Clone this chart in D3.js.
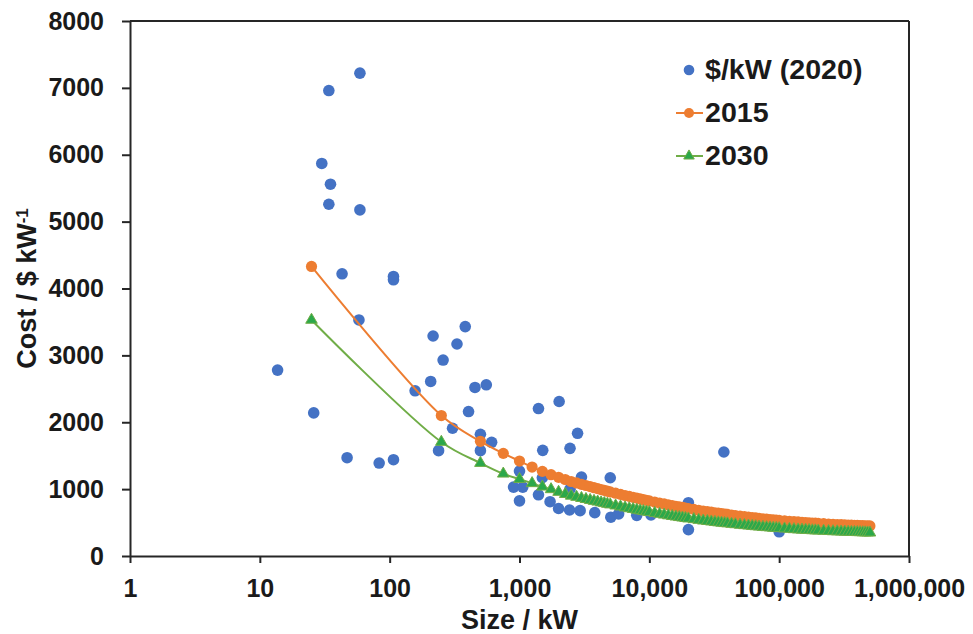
<!DOCTYPE html>
<html>
<head>
<meta charset="utf-8">
<script src="https://cdn.jsdelivr.net/npm/d3@7"></script>
<style>
  html, body { margin: 0; padding: 0; background: #fff; }
  svg text { font-family: "Liberation Sans", Arial, Helvetica, sans-serif; font-weight: bold; fill: #1a1a1a; }
</style>
</head>
<body>
<svg id="chart" width="973" height="634"></svg>
<script>
// ---------- data ----------
const blueSize = [13.7, 26, 47, 30, 34, 35, 34, 43, 59, 59, 58, 83, 107, 107, 107, 157, 207, 216, 238, 258, 305, 330, 382, 405, 454, 500, 500, 555, 610, 900, 1000, 1000, 1060, 1400, 1400, 1510, 1500, 1720, 2000, 2020, 2430, 2450, 2450, 2800, 2930, 3000, 3800, 5000, 5050, 5800, 8000, 10300, 20000, 20000, 37500, 100000];
const blueCost = [2780, 2140, 1470, 5870, 6960, 5560, 5260, 4220, 7220, 5175, 3530, 1390, 4180, 4130, 1440, 2470, 2610, 3290, 1575, 2930, 1910, 3170, 3430, 2160, 2520, 1820, 1575, 2560, 1700, 1030, 1270, 825, 1030, 2205, 915, 1580, 1170, 812, 710, 2310, 688, 1610, 1000, 1835, 678, 1180, 648, 1170, 580, 630, 608, 613, 797, 395, 1555, 362];

const curveSize = [25, 250, 500, 750,
  1000, 1250, 1500, 1750, 2000, 2250, 2500, 2750, 3000, 3250, 3500, 3750, 4000, 4250, 4500, 4750,
  5000, 5500, 6000, 6500, 7000, 7500, 8000, 8500, 9000, 9500,
  10000, 11000, 12000, 13000, 14000, 15000, 16000, 17000, 18000, 19000, 20000,
  22000, 24000, 26000, 28000, 30000, 32000, 34000, 36000, 38000, 40000,
  43000, 46000, 50000, 54000, 58000, 62000, 66000, 70000, 75000, 80000, 85000, 90000, 95000,
  100000, 110000, 120000, 130000, 140000, 150000, 160000, 170000, 180000, 190000, 200000,
  220000, 240000, 260000, 280000, 300000, 320000, 340000, 360000, 380000, 400000, 420000, 440000, 460000, 480000, 500000];
const cost2015 = [4330, 2100, 1715, 1535,
  1420, 1330, 1266, 1216, 1177, 1144, 1114, 1092, 1072, 1054, 1037, 1021, 1007, 994, 981, 969,
  958, 939, 921, 905, 891, 877, 865, 853, 842, 832,
  823, 807, 791, 778, 765, 754, 744, 734, 726, 717, 710,
  697, 684, 673, 664, 655, 647, 640, 633, 626, 621,
  613, 605, 596, 589, 581, 575, 569, 563, 557, 551, 546, 541, 537,
  533, 526, 520, 514, 509, 505, 500, 497, 493, 491, 488,
  483, 478, 474, 471, 468, 466, 463, 461, 459, 457, 455, 453, 452, 451, 449];
const cost2030 = [3530, 1705, 1390, 1230,
  1150, 1087, 1036, 997, 957, 925, 900, 882, 865, 850, 836, 822, 811, 799, 789, 778,
  769, 753, 738, 724, 712, 701, 690, 680, 671, 662,
  655, 642, 628, 617, 606, 596, 588, 580, 573, 566, 559,
  549, 538, 528, 521, 514, 507, 501, 496, 490, 486,
  479, 473, 465, 459, 453, 448, 443, 438, 433, 429, 425, 420, 417,
  414, 409, 404, 399, 395, 392, 389, 386, 383, 381, 379,
  375, 371, 368, 366, 364, 362, 360, 358, 357, 355, 354, 352, 351, 350, 349];

const xTickValues = [1, 10, 100, 1000, 10000, 100000, 1000000];
const yTickValues = [0, 1000, 2000, 3000, 4000, 5000, 6000, 7000, 8000];
const seriesNames = ["$/kW (2020)", "2015", "2030"];

// ---------- layout ----------
const colors = { blue: "#4472C4", orange: "#ED7D31", greenFill: "#2BA84A", greenLine: "#70AD47" };
const margin = { left: 130, right: 64, top: 21, bottom: 78 };
const W = 973, H = 634;
const svg = d3.select("#chart");

const x = d3.scaleLog().domain([1, 1000000]).range([margin.left, W - margin.right]);
const y = d3.scaleLinear().domain([0, 8000]).range([H - margin.bottom, margin.top]);
const axisColor = "#262626";

// plot frame (top and right)
svg.append("line").attr("x1", x(1)).attr("x2", x(1e6)).attr("y1", y(8000)).attr("y2", y(8000))
  .attr("stroke", axisColor).attr("stroke-width", 2);
svg.append("line").attr("x1", x(1e6)).attr("x2", x(1e6)).attr("y1", y(8000)).attr("y2", y(0))
  .attr("stroke", axisColor).attr("stroke-width", 2);

// axes
const xAxis = d3.axisBottom(x).tickValues(xTickValues).tickFormat(d3.format(",")).tickSize(7).tickPadding(16).tickSizeOuter(0);
const yAxis = d3.axisLeft(y).tickValues(yTickValues).tickFormat(d => d).tickSize(8).tickPadding(18).tickSizeOuter(0);

const gx = svg.append("g").attr("transform", `translate(0,${y(0)})`).call(xAxis);
const gy = svg.append("g").attr("transform", `translate(${x(1)},0)`).call(yAxis);
[gx, gy].forEach(g => {
  g.select(".domain").attr("stroke", axisColor).attr("stroke-width", 2);
  g.selectAll(".tick line").attr("stroke", axisColor).attr("stroke-width", 2);
  g.selectAll(".tick text").attr("fill", "#1a1a1a").style("font-size", "25px")
    .style("font-family", '"Liberation Sans", Arial, sans-serif').style("font-weight", "bold");
});

// axis titles
svg.append("text").attr("x", (x(1) + x(1e6)) / 2).attr("y", 629).attr("text-anchor", "middle")
  .style("font-size", "27px").text("Size / kW");
const yt = svg.append("text").attr("transform", `translate(36,${(y(0) + y(8000)) / 2}) rotate(-90)`)
  .attr("text-anchor", "middle").style("font-size", "27px");
yt.append("tspan").text("Cost / $ kW");
yt.append("tspan").attr("dy", "-0.45em").style("font-size", "17px").text("-1");

// ---------- marks ----------
const plot = svg.append("g");
const blueData = blueSize.map((s, i) => ({ s, c: blueCost[i] }));
plot.selectAll("circle.blue").data(blueData).enter().append("circle")
  .attr("class", "blue").attr("cx", d => x(d.s)).attr("cy", d => y(d.c)).attr("r", 5.8)
  .attr("fill", colors.blue);

const d2015 = curveSize.map((s, i) => ({ s, c: cost2015[i] }));
const d2030 = curveSize.map((s, i) => ({ s, c: cost2030[i] }));
const line = d3.line().x(d => x(d.s)).y(d => y(d.c)).curve(d3.curveCatmullRom.alpha(0.5));

plot.append("path").datum(d2015).attr("d", line).attr("fill", "none").attr("stroke", colors.orange).attr("stroke-width", 2);
plot.selectAll("circle.o").data(d2015).enter().append("circle")
  .attr("class", "o").attr("cx", d => x(d.s)).attr("cy", d => y(d.c)).attr("r", 5.6)
  .attr("fill", colors.orange);

plot.append("path").datum(d2030).attr("d", line).attr("fill", "none").attr("stroke", colors.greenLine).attr("stroke-width", 2);
const tri = d3.symbol().type(d3.symbolTriangle).size(58);
plot.selectAll("path.g").data(d2030).enter().append("path")
  .attr("class", "g").attr("d", tri)
  .attr("transform", d => `translate(${x(d.s)},${y(d.c)})`)
  .attr("fill", colors.greenFill).attr("stroke", colors.greenLine).attr("stroke-width", 1);

// ---------- legend ----------
const lg = svg.append("g");
const legX = 689, textX = 705;
const rowsY = [70, 113, 156];
lg.append("circle").attr("cx", legX).attr("cy", rowsY[0]).attr("r", 5.3).attr("fill", colors.blue);
lg.append("line").attr("x1", 676).attr("x2", 703).attr("y1", rowsY[1]).attr("y2", rowsY[1]).attr("stroke", colors.orange).attr("stroke-width", 2);
lg.append("circle").attr("cx", legX).attr("cy", rowsY[1]).attr("r", 5).attr("fill", colors.orange);
lg.append("line").attr("x1", 676).attr("x2", 703).attr("y1", rowsY[2]).attr("y2", rowsY[2]).attr("stroke", colors.greenLine).attr("stroke-width", 2);
lg.append("path").attr("d", d3.symbol().type(d3.symbolTriangle).size(48)).attr("transform", `translate(${legX},${rowsY[2]})`).attr("fill", colors.greenFill).attr("stroke", colors.greenLine);
seriesNames.forEach((n, i) => {
  lg.append("text").attr("transform", `translate(${textX},${rowsY[i] + 9}) scale(1.06,1)`)
    .style("font-size", "27px").text(n);
});
</script>
</body>
</html>
